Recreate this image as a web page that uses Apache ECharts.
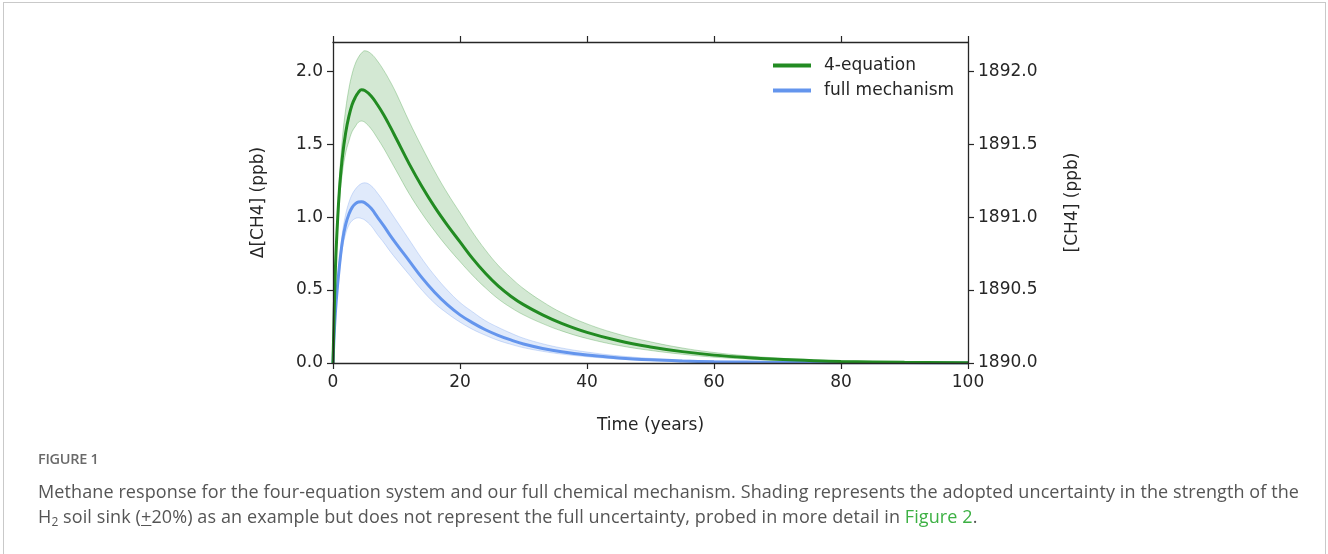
<!DOCTYPE html>
<html><head><meta charset="utf-8">
<script src="https://cdn.jsdelivr.net/npm/echarts@6/dist/echarts.min.js"></script>
<style>
html,body{margin:0;padding:0;background:#fff;width:1328px;height:554px;overflow:hidden;}
#frame{position:absolute;left:3px;top:2px;width:1323px;height:620px;border:1px solid #c9c9c9;box-sizing:border-box;}
#chart{position:absolute;left:0;top:0;width:1328px;height:554px;}
#fig{position:absolute;left:38px;top:449px;font-family:'Open Sans',sans-serif;font-size:14.5px;font-weight:600;color:#6a6a6a;letter-spacing:-0.3px;}
#cap{position:absolute;left:38px;top:479px;font-family:'Open Sans',sans-serif;font-size:18px;line-height:25px;color:#555;white-space:nowrap;letter-spacing:0.1px;}
#cap sub{font-size:12px;vertical-align:-3px;line-height:0;}
#cap .lnk{color:#3cb043;}
#cap .pm{text-decoration:underline;text-underline-offset:2px;}
</style></head><body>
<div id="frame"></div>
<div id="chart"></div>
<div id="fig">FIGURE 1</div>
<div id="cap">Methane response for the four-equation system and our full chemical mechanism. Shading represents the adopted uncertainty in the strength of the<br>H<sub>2</sub> soil sink (<span class="pm">+</span>20%) as an example but does not represent the full uncertainty, probed in more detail in <span class="lnk">Figure 2</span>.</div>
<script>
// ---- data ----
const years      = [0, 0.25, 0.5, 1, 1.5, 2, 2.5, 3, 3.5, 4, 4.5, 5, 6, 7, 8, 9, 10, 12, 14, 16, 18, 20, 22, 24, 26, 28, 30, 33, 36, 40, 45, 50, 55, 60, 65, 70, 75, 80, 90, 100];
const eq4        = [0, 0.45, 0.78, 1.18, 1.42, 1.58, 1.69, 1.77, 1.82, 1.855, 1.872, 1.868, 1.83, 1.77, 1.70, 1.62, 1.535, 1.365, 1.21, 1.07, 0.945, 0.83, 0.715, 0.615, 0.528, 0.458, 0.40, 0.33, 0.272, 0.21, 0.152, 0.11, 0.078, 0.054, 0.037, 0.025, 0.017, 0.011, 0.005, 0.002];
const eq4Upper   = [0, 0.47, 0.82, 1.26, 1.55, 1.74, 1.88, 1.98, 2.05, 2.095, 2.125, 2.14, 2.12, 2.07, 2.005, 1.93, 1.845, 1.655, 1.48, 1.315, 1.165, 1.03, 0.895, 0.775, 0.67, 0.585, 0.51, 0.42, 0.345, 0.268, 0.197, 0.145, 0.103, 0.072, 0.05, 0.034, 0.023, 0.015, 0.007, 0.003];
const eq4Lower   = [0, 0.43, 0.74, 1.10, 1.31, 1.44, 1.52, 1.585, 1.62, 1.65, 1.658, 1.65, 1.605, 1.54, 1.47, 1.393, 1.315, 1.16, 1.025, 0.905, 0.795, 0.695, 0.60, 0.515, 0.44, 0.38, 0.33, 0.27, 0.22, 0.168, 0.12, 0.086, 0.06, 0.04, 0.027, 0.018, 0.012, 0.008, 0.004, 0.001];
const full       = [0, 0.25, 0.42, 0.66, 0.84, 0.95, 1.02, 1.065, 1.09, 1.103, 1.105, 1.098, 1.06, 1.00, 0.94, 0.875, 0.815, 0.70, 0.585, 0.485, 0.40, 0.33, 0.275, 0.228, 0.19, 0.158, 0.13, 0.10, 0.077, 0.055, 0.035, 0.022, 0.014, 0.009, 0.006, 0.004, 0.003, 0.002, 0.001, 0.0005];
const fullUpper  = [0, 0.26, 0.44, 0.70, 0.90, 1.02, 1.10, 1.155, 1.19, 1.215, 1.23, 1.235, 1.215, 1.165, 1.105, 1.04, 0.975, 0.845, 0.715, 0.60, 0.50, 0.415, 0.35, 0.29, 0.245, 0.205, 0.17, 0.132, 0.103, 0.075, 0.049, 0.032, 0.021, 0.014, 0.009, 0.006, 0.0045, 0.003, 0.0015, 0.0008];
const fullLower  = [0, 0.24, 0.40, 0.62, 0.79, 0.885, 0.945, 0.975, 0.99, 0.995, 0.99, 0.98, 0.94, 0.88, 0.825, 0.765, 0.71, 0.605, 0.50, 0.41, 0.34, 0.28, 0.23, 0.19, 0.155, 0.128, 0.105, 0.08, 0.061, 0.043, 0.027, 0.017, 0.011, 0.007, 0.0045, 0.003, 0.002, 0.0012, 0.0006, 0.0003];
const xTicks     = [0, 20, 40, 60, 80, 100];
const leftTicks  = [0, 0.5, 1.0, 1.5, 2.0];
const rightTicks = [1890.0, 1890.5, 1891.0, 1891.5, 1892.0];
const seriesNames = ['4-equation', 'full mechanism'];

// ---- chart ----
const pairs = arr => years.map((t, i) => [t, arr[i]]);

const FONT = 'DejaVu Sans';
const INK = '#262626';
const green = '#228B22', blue = '#6495ED';
const SMOOTH = 0.4;

const axisCommon = {
  z: 10,
  axisLine: { show: true, onZero: false, lineStyle: { color: INK, width: 1.3 } },
  axisTick: { show: true, length: 6, lineStyle: { color: INK, width: 1.2 } },
  splitLine: { show: false },
  axisLabel: { color: INK, fontFamily: FONT, fontSize: 17 },
  nameTextStyle: { color: INK, fontFamily: FONT, fontSize: 17 }
};

// band = coloured fill under the upper edge, masked with white under the lower edge
function band(id, upper, lower, color, z) {
  return [
    { name: id + '-up', type: 'line', data: pairs(upper), symbol: 'none', smooth: SMOOTH, silent: true, z: z,
      lineStyle: { color: color, width: 1, opacity: 0.28 }, areaStyle: { color: color, opacity: 0.2, origin: 'start' } },
    { name: id + '-lo', type: 'line', data: pairs(lower), symbol: 'none', smooth: SMOOTH, silent: true, z: z,
      lineStyle: { color: color, width: 1, opacity: 0.28 }, areaStyle: { color: '#ffffff', opacity: 1, origin: 'start' } }
  ];
}

const chart = echarts.init(document.getElementById('chart'), null, { renderer: 'canvas' });
chart.setOption({
  animation: false,
  backgroundColor: 'transparent',
  grid: { left: 333, right: 360, top: 42, bottom: 191, containLabel: false },
  legend: {
    data: seriesNames,
    orient: 'vertical',
    left: 768, top: 52,
    icon: 'rect', itemWidth: 38, itemHeight: 4, itemGap: 8,
    textStyle: { color: INK, fontFamily: FONT, fontSize: 17, padding: [0, 0, 0, 8] },
    selectedMode: false
  },
  xAxis: [
    Object.assign({}, axisCommon, {
      type: 'value', position: 'bottom', min: 0, max: 100, interval: 20,
      name: 'Time (years)', nameLocation: 'middle', nameGap: 54,
      axisLabel: Object.assign({}, axisCommon.axisLabel, { margin: 11, customValues: xTicks, formatter: v => String(v) }),
      axisTick: Object.assign({}, axisCommon.axisTick, { customValues: xTicks })
    }),
    Object.assign({}, axisCommon, {
      type: 'value', position: 'top', min: 0, max: 100, interval: 20,
      axisLabel: { show: false },
      axisTick: Object.assign({}, axisCommon.axisTick, { customValues: xTicks })
    })
  ],
  yAxis: [
    Object.assign({}, axisCommon, {
      type: 'value', position: 'left', min: 0, max: 2.2, interval: 0.5,
      name: 'Δ[CH4] (ppb)', nameLocation: 'middle', nameRotate: 90, nameGap: 66,
      axisLabel: Object.assign({}, axisCommon.axisLabel, { margin: 10, customValues: leftTicks, formatter: v => v.toFixed(1) }),
      axisTick: Object.assign({}, axisCommon.axisTick, { customValues: leftTicks })
    }),
    Object.assign({}, axisCommon, {
      type: 'value', position: 'right', min: 1890, max: 1892.2, interval: 0.5,
      name: '[CH4] (ppb)', nameLocation: 'middle', nameRotate: 90, nameGap: 96,
      axisLabel: Object.assign({}, axisCommon.axisLabel, { margin: 10, customValues: rightTicks, formatter: v => v.toFixed(1) }),
      axisTick: Object.assign({}, axisCommon.axisTick, { customValues: rightTicks })
    })
  ],
  series: [].concat(
    band('eq4', eq4Upper, eq4Lower, green, 1),
    band('full', fullUpper, fullLower, blue, 2),
    [
      { name: seriesNames[1], type: 'line', data: pairs(full), symbol: 'none', smooth: SMOOTH,
        lineStyle: { color: blue, width: 3 }, itemStyle: { color: blue }, z: 3 },
      { name: seriesNames[0], type: 'line', data: pairs(eq4), symbol: 'none', smooth: SMOOTH,
        lineStyle: { color: green, width: 3 }, itemStyle: { color: green }, z: 4 }
    ]
  )
});
</script>
</body></html>
